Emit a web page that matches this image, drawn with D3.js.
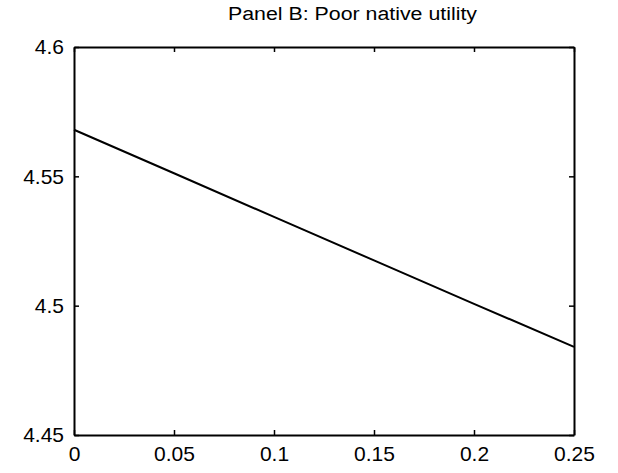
<!DOCTYPE html>
<html>
<head>
<meta charset="utf-8">
<script src="https://cdn.jsdelivr.net/npm/d3@7"></script>
<style>
  body { margin: 0; background: #fff; }
  text { font-family: "Liberation Sans", Arial, sans-serif; fill: #000; }
</style>
</head>
<body>
<svg id="chart" width="618" height="473"></svg>
<script>
// data
const xs = [0, 0.05, 0.1, 0.15, 0.2, 0.25];
const utility = [4.568, 4.5512, 4.5343, 4.5175, 4.5007, 4.4841];
const xTicks = [0, 0.05, 0.1, 0.15, 0.2, 0.25];
const yTicks = [4.45, 4.5, 4.55, 4.6];
const title = "Panel B: Poor native utility";

const svg = d3.select("#chart"),
      margin = {top: 47, right: 44, bottom: 38, left: 74},
      width = +svg.attr("width") - margin.left - margin.right,
      height = +svg.attr("height") - margin.top - margin.bottom;

svg.append("rect").attr("width", 618).attr("height", 473).attr("fill", "#fff");

const g = svg.append("g")
             .attr("transform", `translate(${margin.left},${margin.top})`);

const x = d3.scaleLinear().domain([0, 0.25]).range([0, width]);
const y = d3.scaleLinear().domain([4.45, 4.6]).range([height, 0]);

// inward ticks, matlab style, on all four sides
const fmt = d => String(+d.toFixed(2));

const xb = g.append("g")
  .attr("transform", `translate(0,${height})`)
  .call(d3.axisBottom(x).tickValues(xTicks).tickSizeInner(-5).tickSizeOuter(0).tickPadding(11).tickFormat(fmt));
xb.selectAll("text").style("font-size", "21px");

const yl = g.append("g")
  .call(d3.axisLeft(y).tickValues(yTicks).tickSizeInner(-5).tickSizeOuter(0).tickPadding(10).tickFormat(fmt));
yl.selectAll("text").style("font-size", "21px");

g.append("g")
  .call(d3.axisTop(x).tickValues(xTicks).tickSizeInner(-5).tickSizeOuter(0).tickFormat(""));
g.append("g")
  .attr("transform", `translate(${width},0)`)
  .call(d3.axisRight(y).tickValues(yTicks).tickSizeInner(-5).tickSizeOuter(0).tickFormat(""));

g.selectAll(".domain").attr("stroke", "#000").attr("stroke-width", 2);
g.selectAll(".tick line").attr("stroke", "#000").attr("stroke-width", 1.5);

// the curve
const line = d3.line().x((d, i) => x(xs[i])).y(d => y(d));
g.append("path")
  .datum(utility)
  .attr("d", line)
  .attr("fill", "none")
  .attr("stroke", "#000")
  .attr("stroke-width", 2);

// title is wide in the scan, stretch it to match
svg.append("text")
  .attr("x", 228)
  .attr("y", 20)
  .attr("textLength", 249)
  .attr("lengthAdjust", "spacingAndGlyphs")
  .style("font-size", "18px")
  .text(title);
</script>
</body>
</html>
